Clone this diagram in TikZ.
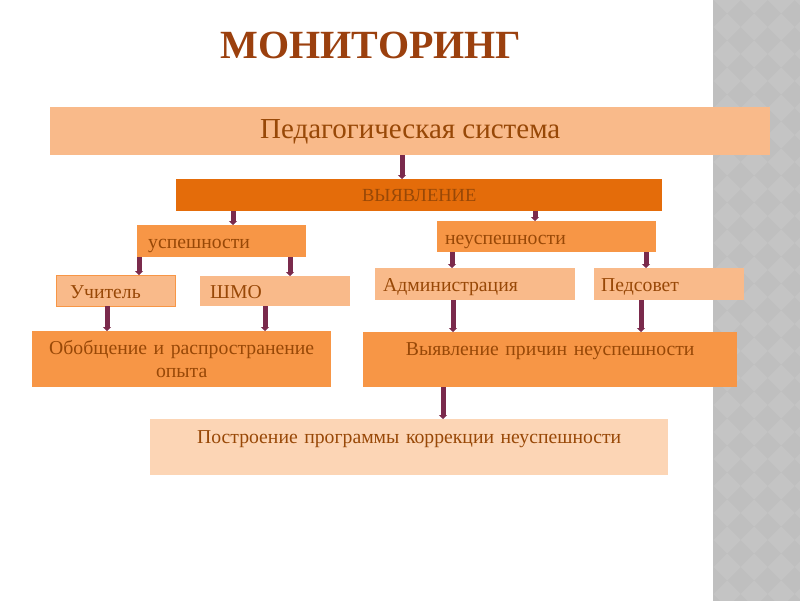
\documentclass[tikz,border=0pt]{standalone}
\usepackage{fontspec}
\setmainfont{Liberation Serif}
\usetikzlibrary{arrows.meta}

\begin{document}
\begin{tikzpicture}[x=1pt, y=-1pt, font=\fontsize{19.7}{23}\selectfont,
    box/.style={rectangle, anchor=north west, inner xsep=8pt, inner ysep=0pt, text=textbrown},
    lbox/.style={box, align=left, text height=15pt, text depth=0pt},
    cbox/.style={box, align=center},
    arr/.style={draw=arrowred, line width=5pt, -{Triangle[width=8pt,length=4pt]}}]
    \definecolor{textbrown}{RGB}{152, 72, 7}
    \definecolor{titlebrown}{RGB}{155, 64, 14}
    \definecolor{pale}{RGB}{249, 186, 138}
    \definecolor{palest}{RGB}{252, 213, 181}
    \definecolor{accent}{RGB}{247, 150, 70}
    \definecolor{darkaccent}{RGB}{228, 108, 10}
    \definecolor{arrowred}{RGB}{122, 42, 76}
    \definecolor{stripgray}{RGB}{191, 191, 191}
    \definecolor{stripdiamond}{RGB}{196, 196, 196}
    \useasboundingbox (0,0) rectangle (800,600);
    % patterned strip on the right
    \begin{scope}
        \clip (713,0) rectangle (800,600);
        \fill[stripgray] (713,-1) rectangle (801,601);
        \foreach \i in {0,...,4}
            \foreach \j in {0,...,23}
                \fill[stripdiamond] (700+\i*27, \j*27-13.5) -- ++(13.5,13.5) -- ++(-13.5,13.5) -- ++(-13.5,-13.5) -- cycle;
    \end{scope}
    \node[text=titlebrown, font=\fontsize{40}{44}\selectfont\bfseries] (title) at (371,45) {МОНИТОРИНГ};
    % boxes
    \node[cbox, fill=pale, minimum width=720pt, minimum height=48pt, text height=14pt, text depth=0pt, font=\fontsize{29}{32}\selectfont] (pedsys) at (50,107) {Педагогическая система};
    \node[cbox, fill=darkaccent, minimum width=486pt, minimum height=32pt, font=\fontsize{18.5}{21}\selectfont] (vyyav) at (176,179) {ВЫЯВЛЕНИЕ};
    \node[lbox, fill=accent, inner xsep=11pt, text width=147pt, minimum height=32pt] (usp) at (137,225) {успешности};
    \node[lbox, fill=accent, text width=203pt, minimum height=31pt] (neusp) at (437,221) {неуспешности};
    \node[lbox, fill=pale, draw=accent, inner xsep=14pt, text width=91pt, minimum height=31pt] (uch) at (56,275) {Учитель};
    \node[lbox, fill=pale, inner xsep=10pt, text width=130pt, minimum height=30pt] (shmo) at (200,276) {ШМО};
    \node[lbox, fill=pale, text width=184pt, minimum height=32pt] (adm) at (375,268) {Администрация};
    \node[lbox, fill=pale, inner xsep=7pt, text width=136pt, minimum height=32pt] (peds) at (594,268) {Педсовет};
    \node[cbox, fill=accent, text width=283pt, minimum height=56pt] (obob) at (32,331) {Обобщение и распространение\\опыта};
    \node[cbox, fill=accent, text width=358pt, inner ysep=4pt, text height=19pt, text depth=28pt] (vpr) at (363,332) {Выявление причин неуспешности};
    \node[cbox, fill=palest, text width=502pt, inner ysep=4pt, text height=20pt, text depth=28pt] (postr) at (150,419) {Построение программы коррекции неуспешности};
    % arrows
    \draw[arr] (pedsys.south -| 402,0) -- (vyyav.north -| 402,0);
    \draw[arr] (vyyav.south -| 233,0) -- (usp.north -| 233,0);
    \draw[arr] (vyyav.south -| 535,0) -- (neusp.north -| 535,0);
    \draw[arr] (usp.south -| 139,0) -- (uch.north -| 139,0);
    \draw[arr] (usp.south -| 290,0) -- (shmo.north -| 290,0);
    \draw[arr] (neusp.south -| 452,0) -- (adm.north -| 452,0);
    \draw[arr] (neusp.south -| 646,0) -- (peds.north -| 646,0);
    \draw[arr] (uch.south -| 107,0) -- (obob.north -| 107,0);
    \draw[arr] (shmo.south -| 265,0) -- (obob.north -| 265,0);
    \draw[arr] (adm.south -| 453,0) -- (vpr.north -| 453,0);
    \draw[arr] (peds.south -| 641,0) -- (vpr.north -| 641,0);
    \draw[arr] (vpr.south -| 443,0) -- (postr.north -| 443,0);
\end{tikzpicture}
\end{document}
